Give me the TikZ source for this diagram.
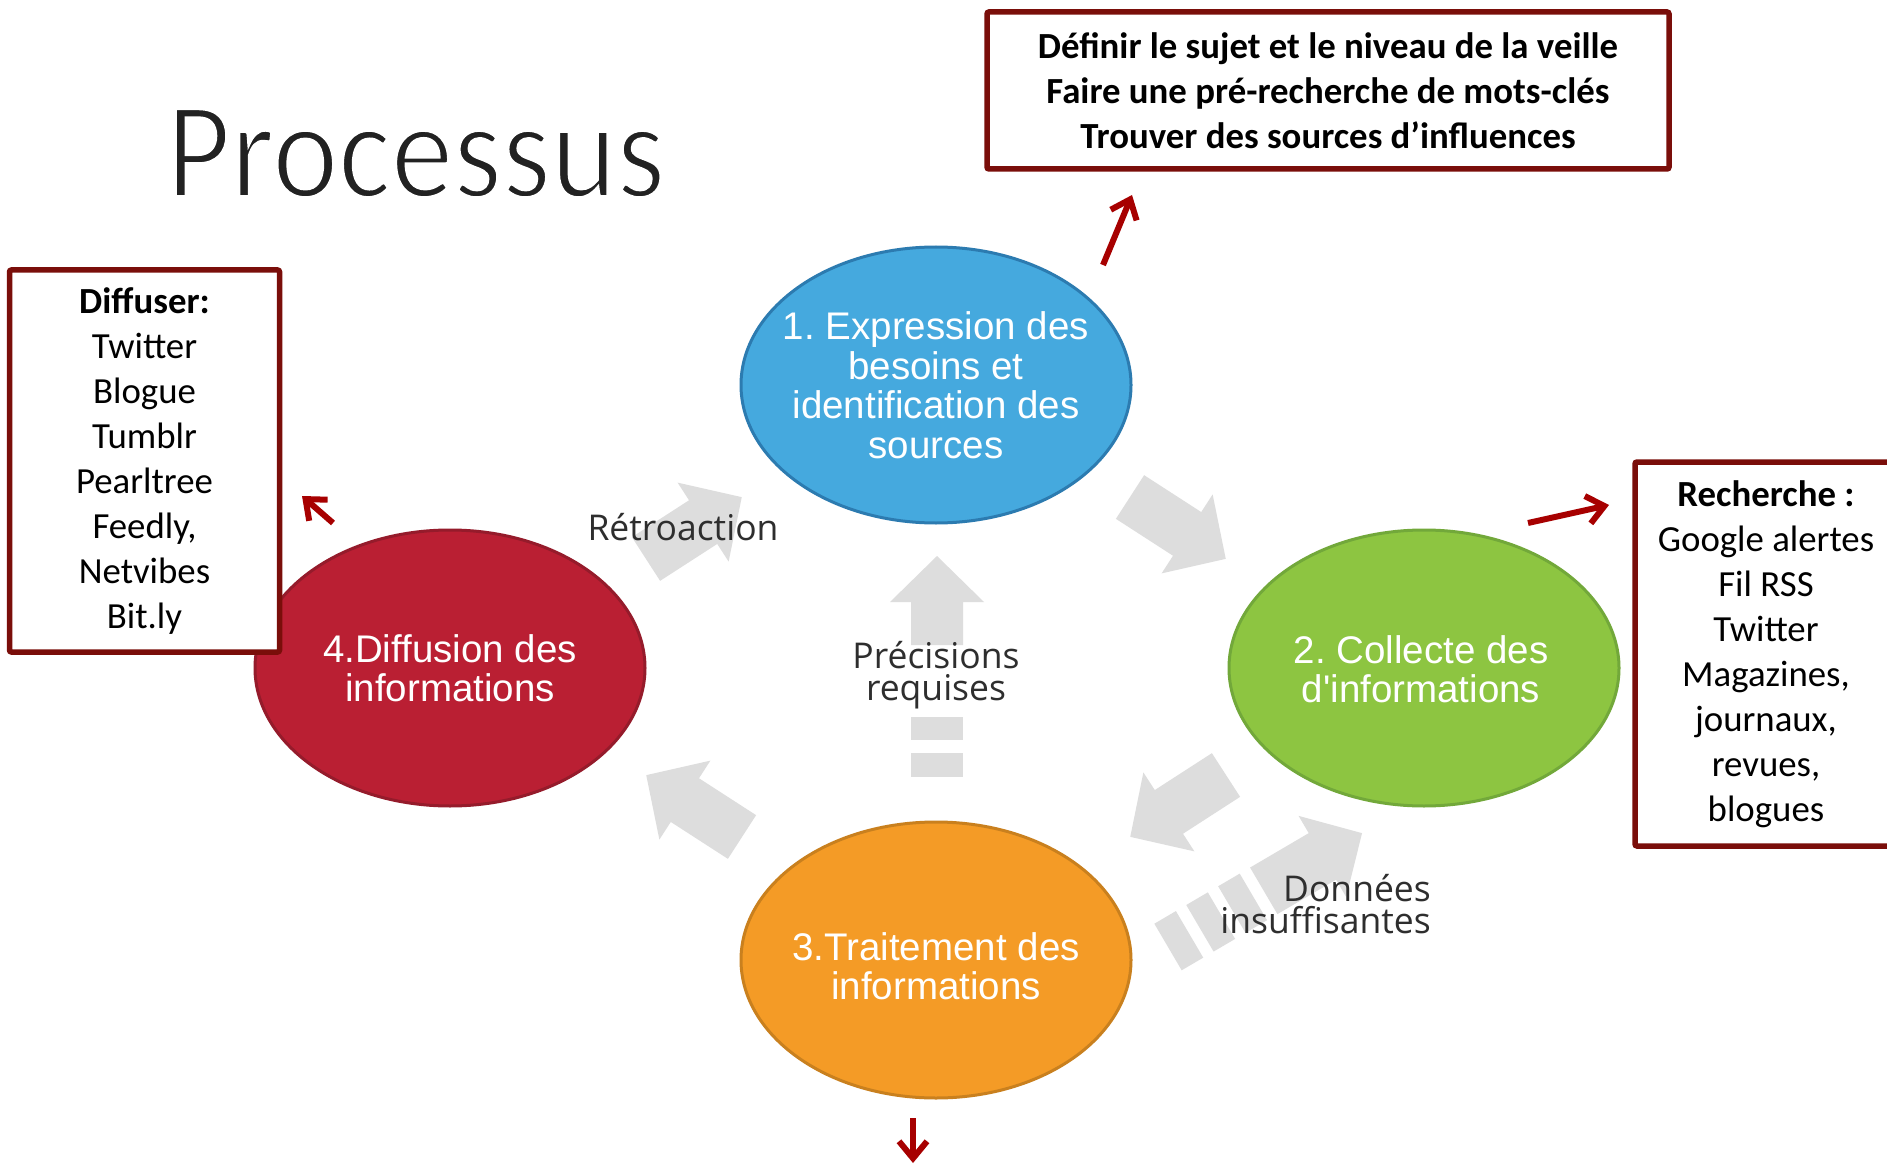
\documentclass[tikz,border=0pt]{standalone}
\usepackage{fontspec}
\setmainfont{Carlito}
\newfontfamily\arialf{Liberation Sans}
\newfontfamily\osans{Open Sans}
\usetikzlibrary{shapes.geometric,arrows.meta}
\definecolor{cblue}{HTML}{45A9DE}
\definecolor{cblueb}{HTML}{2C7BB0}
\definecolor{cgreen}{HTML}{8DC541}
\definecolor{cgreenb}{HTML}{72A83A}
\definecolor{corange}{HTML}{F49B26}
\definecolor{corangeb}{HTML}{C9801E}
\definecolor{cred}{HTML}{BA1F33}
\definecolor{credb}{HTML}{951B2B}
\definecolor{cgray}{HTML}{DDDDDD}
\definecolor{cbox}{HTML}{7A0E0A}
\definecolor{carrow}{HTML}{A70000}
\definecolor{ctext}{HTML}{2E2E2E}
\definecolor{ctitle}{HTML}{222222}
\frenchspacing
\begin{document}
\begin{tikzpicture}[x=1pt,y=-1pt,
  ell/.style={ellipse, minimum width=390pt, minimum height=276pt, inner sep=0pt,
    line width=3pt},
  elltext/.style={inner sep=0pt, text=white, align=center,
    font=\arialf\fontsize{38.5}{39.5}\selectfont},
  lbl/.style={inner sep=0pt, text=ctext, font=\osans\fontsize{35.5}{32}\selectfont},
  infobox/.style={draw=cbox, line width=5.5pt, rounded corners=2pt, align=center,
    inner sep=0pt, fill=white, font=\fontsize{36.8}{45}\selectfont},
  redarr/.style={draw=carrow, line width=6pt, -{Straight Barb[length=17pt,width=28pt]}},
  pics/garrow/.style={code={
    \fill[cgray] (0,-26) -- (#1-46,-26) -- (#1-46,-47) -- (#1,0) -- (#1-46,47)
      -- (#1-46,26) -- (0,26) -- cycle;}},
  pics/darrow/.style={code={
    \fill[cgray] (0,-27) rectangle (25,27);
    \fill[cgray] (37,-27) rectangle (62,27);
    \fill[cgray] (74,-27) rectangle (99,27);
    \fill[cgray] (111,-27) -- (179,-27) -- (179,-47) -- (225,0) -- (179,47)
      -- (179,27) -- (111,27) -- cycle;}}
]
\clip (0,0) rectangle (1887,1166);
\fill[white] (0,0) rectangle (1887,1166);

% title
\node[anchor=base west, inner sep=0pt, text=ctitle,
  font=\fontsize{138}{138}\selectfont] (title) at (166,197)
  {\scalebox{0.905}[1]{\special{pdf:code q 2 Tr 3.5 w 1 G}Processus\special{pdf:code Q}}};

% gray cycle arrows
\pic[rotate=32.86] at (646,559) {garrow=114};
\pic[rotate=-32.86] at (1130,497) {garrow=114};
\pic[rotate=212.86] at (1226,775) {garrow=114};
\pic[rotate=147.14] at (742,837) {garrow=114};
\pic[rotate=30.4] at (1168,947) {darrow};

% vertical arrow (precisions requises)
\fill[cgray] (911,645) -- (911,602) -- (890,602) -- (937,556) -- (984,602)
  -- (963,602) -- (963,645) -- cycle;
\fill[cgray] (911,717) rectangle (963,740);
\fill[cgray] (911,753) rectangle (963,777);

% ellipses
\node[ell, fill=cblue, draw=cblueb] (e1) at (936,385) {};
\node[ell, fill=cgreen, draw=cgreenb] (e2) at (1424,668) {};
\node[ell, fill=corange, draw=corangeb] (e3) at (936,960) {};
\node[ell, fill=cred, draw=credb] (e4) at (450,668) {};
\node[elltext] (t1) at (e1) {1. Expression des\\besoins et\\identification des\\sources};
\node[elltext] (t2) at (1421,669) {2. Collecte des\\d'informations};
\node[elltext] (t3) at (936,966) {3.Traitement des\\informations};
\node[elltext] (t4) at (e4) {4.Diffusion des\\informations};

% labels
\node[lbl] (retro) at (683,527) {Rétroaction};
\node[lbl, align=center] (prec) at (936,675) {Précisions\\requises};
\node[lbl, align=right, anchor=east] (donn) at (1431,904) {Données\\insuffisantes};

% info boxes
\node[infobox, minimum width=682pt, minimum height=157pt, font=\bfseries\fontsize{36.8}{45}\selectfont]
  (b1) at (1328,90.5)
  {Définir le sujet et le niveau de la veille\\Faire une pré-recherche de mots-clés\\Trouver des sources d’influences};
\node[infobox, minimum width=270pt, minimum height=382pt] (b4) at (144.5,461)
  {\textbf{Diffuser:}\\Twitter\\Blogue\\Tumblr\\Pearltree\\Feedly,\\Netvibes\\Bit.ly};
\node[infobox, minimum width=262pt, minimum height=384pt] (b2) at (1766,654)
  {\textbf{Recherche :}\\Google alertes\\Fil RSS\\Twitter\\Magazines,\\journaux,\\revues,\\blogues};

% red arrows
\coordinate (r1s) at (1103,265); \coordinate (r1e) at (1132,195);
\coordinate (r2s) at (1528,523); \coordinate (r2e) at (1609,505);
\coordinate (r3s) at (913,1118); \coordinate (r3e) at (913,1163);
\coordinate (r4s) at (333,523); \coordinate (r4e) at (302,496);
\draw[redarr] (r1s) -- (r1e);
\draw[redarr] (r2s) -- (r2e);
\draw[redarr] (r3s) -- (r3e);
\draw[redarr] (r4s) -- (r4e);
\end{tikzpicture}
\end{document}
